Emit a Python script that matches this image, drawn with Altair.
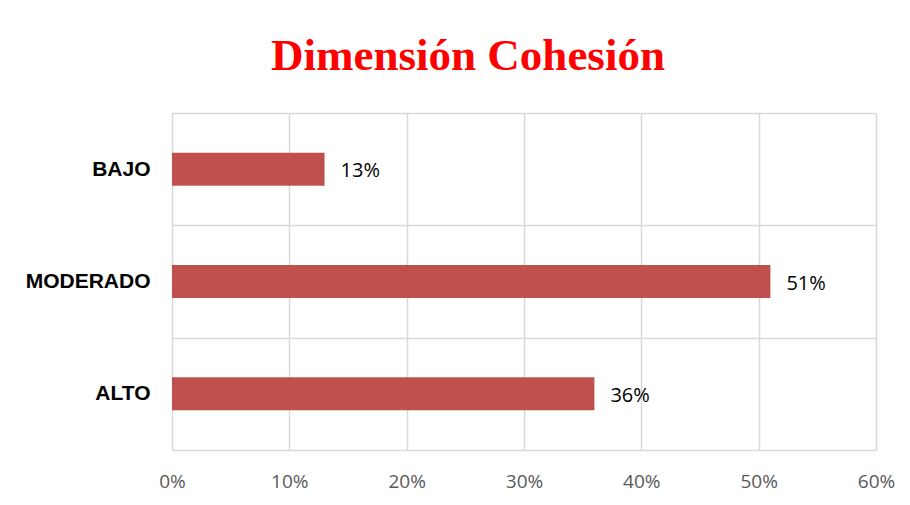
import altair as alt
import pandas as pd

categories = ["BAJO", "MODERADO", "ALTO"]
values = [0.13, 0.51, 0.36]
x_ticks = [0.0, 0.1, 0.2, 0.3, 0.4, 0.5, 0.6]

df = pd.DataFrame({"nivel": categories, "valor": values})
df["etiqueta"] = [f"{round(v * 100)}%" for v in values]

y_scale = alt.Scale(paddingInner=0, paddingOuter=0)

y_enc = alt.Y(
    "nivel:N",
    sort=categories,
    title=None,
    scale=y_scale,
    axis=alt.Axis(
        labelFont="Liberation Sans",
        labelFontWeight="bold",
        labelFontSize=21,
        labelColor="#000000",
        labelPadding=22,
        ticks=False,
        domain=False,
        grid=True,
        tickBand="extent",
        gridColor="#d9d9d9",
        gridWidth=1.5,
    ),
)

x_enc = alt.X(
    "valor:Q",
    scale=alt.Scale(domain=[0, 0.6], nice=False),
    title=None,
    axis=alt.Axis(
        values=x_ticks,
        format=".0%",
        labelFont="Open Sans",
        labelFontSize=19,
        labelColor="#595959",
        labelPadding=22,
        labelFlush=False,
        ticks=False,
        domain=False,
        grid=True,
        gridColor="#d9d9d9",
        gridWidth=1.5,
    ),
)

bars = alt.Chart(df).mark_bar(color="#C0504D", size=33).encode(x=x_enc, y=y_enc)

labels = alt.Chart(df).mark_text(
    align="left", baseline="middle", dx=16, dy=2,
    font="Open Sans", fontSize=20, color="#000000"
).encode(
    x=alt.X("valor:Q"),
    y=alt.Y("nivel:N", sort=categories, scale=y_scale),
    text="etiqueta:N",
)

chart = (
    alt.layer(bars, labels)
    .properties(
        width=704,
        height=337,
        autosize=alt.AutoSizeParams(type="none"),
        padding={"left": 164, "top": 105, "right": 22, "bottom": 52},
        title=alt.TitleParams(
            "Dimensión Cohesión",
            font="Liberation Serif",
            fontSize=45,
            fontWeight="bold",
            color="#FF0000",
            anchor="middle",
            baseline="alphabetic",
            offset=-13,
            dx=-56,
        ),
    )
    .configure_view(fill="#efefef", stroke="#d9d9d9", strokeWidth=1.5)
    .configure(background="white")
)

chart.save("out.html", embed_options={"renderer": "svg", "actions": False})
